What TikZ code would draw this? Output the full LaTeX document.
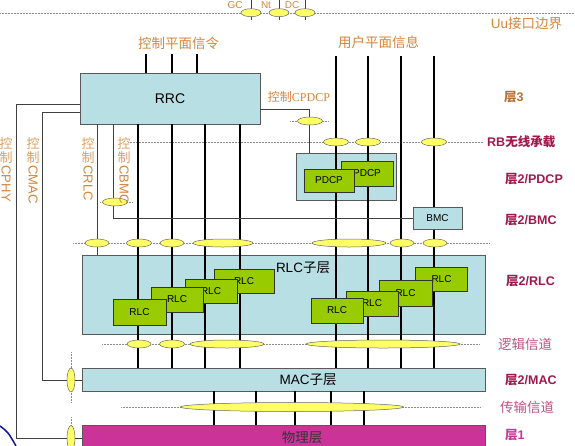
\documentclass[tikz,border=0pt]{standalone}
\usepackage{fontspec}
\setmainfont{Liberation Sans}
\newfontfamily\cjk{Noto Sans CJK SC}
\newfontfamily\lat{Liberation Sans}
\newfontfamily\serif{Liberation Serif}
\usetikzlibrary{shapes.geometric}
\usetikzlibrary{positioning}

\definecolor{boxblue}{RGB}{184,223,227}
\definecolor{rlcgreen}{RGB}{153,204,0}
\definecolor{ovalyellow}{RGB}{255,255,102}
\definecolor{phymag}{RGB}{204,51,153}
\definecolor{lblorange}{RGB}{214,132,58}
\definecolor{lbldark}{RGB}{160,24,76}
\definecolor{lblmauve}{RGB}{188,82,132}
\definecolor{arcblue}{RGB}{20,20,150}

\tikzset{
  layerbox/.style={draw=black!65, fill=boxblue, line width=0.8pt, inner sep=0pt},
  entity/.style={draw=black!80, fill=rlcgreen, line width=0.8pt, minimum width=52pt,
    minimum height=25pt, inner sep=0pt, font=\fontsize{10}{12}\selectfont},
  sap/.style={ellipse, draw=black!60, fill=ovalyellow, line width=0.5pt,
    minimum height=8pt, inner sep=0pt},
  chan/.style={line width=2.4pt, black},
  ctrl/.style={line width=0.8pt, black!75},
  bound/.style={densely dotted, black!45, line width=0.5pt},
  title/.style={inner sep=0pt, text=lblorange, font=\cjk\fontsize{13.5}{15}\selectfont},
  vlbl/.style={anchor=north, align=center, inner sep=0pt, text=lblorange!80,
    font=\cjk\fontsize{13}{14}\selectfont},
  vrot/.style={anchor=west, rotate=-90, inner sep=0pt, text=lblorange,
    font=\fontsize{13}{14}\selectfont},
  lyr/.style={anchor=west, inner sep=0pt, text=lbldark, font=\bfseries\fontsize{12.5}{14}\selectfont},
  chlbl/.style={anchor=west, inner sep=0pt, text=lblmauve, font=\cjk\fontsize{13.5}{15}\selectfont},
  sublbl/.style={inner sep=0pt, font=\fontsize{13.5}{15}\selectfont},
  toplbl/.style={inner sep=0pt, text=lblorange, font=\fontsize{10}{11}\selectfont}
}

\begin{document}
\begin{tikzpicture}[x=1pt,y=-1pt]
  \clip (0,0) rectangle (575,445);

  % dotted boundaries
  \draw [bound] (0,13) -- (575,13);
  \draw [bound] (128,142) -- (483,142);
  \draw [bound] (100,202) -- (133,202);
  \draw [bound] (290,121) -- (328,121);
  \draw [bound] (73,243) -- (490,243);
  \draw [bound] (102,344) -- (480,344);
  \draw [bound] (121,407) -- (480,407);
  \draw [bound] (71,352) -- (71,402);
  \draw [bound] (71,417) -- (71,445);

  % layer boxes
  \node [layerbox, minimum width=180pt, minimum height=51pt, font=\fontsize{14}{16}\selectfont]
    (rrc) at (170,98.5) {RRC};
  \node [layerbox, minimum width=100pt, minimum height=47pt] (pdcp) at (346,176.5) {};
  \node [layerbox, minimum width=403pt, minimum height=79pt] (rlc) at (283.5,294.5) {};
  \node [layerbox, minimum width=403pt, minimum height=23pt] (mac) at (283.5,379.5) {};
  \node [layerbox, fill=phymag, minimum width=403pt, minimum height=40pt] (phy) at (283.5,445) {};
  \node [sublbl] (rlctxt) at (303,268) {RLC{\cjk 子层}};
  \node [sublbl] (mactxt) at (308,380) {MAC{\cjk 子层}};
  \node [sublbl, text=black!80] (phytxt) at (302,437) {\cjk 物理层};

  % channels
  \foreach \x [count=\i] in {146,172,197} {
    \coordinate (s\i) at (\x,54);
    \draw [chan] (s\i) -- (s\i |- rrc.north);
  }
  \foreach \x [count=\i] in {138,172,205,240} {
    \coordinate (c\i) at (\x,124);
    \draw [chan] (c\i) -- (c\i |- mac.north);
  }
  \foreach \x [count=\i] in {336,368,401,434} {
    \coordinate (u\i) at (\x,56);
    \draw [chan] (u\i) -- (u\i |- mac.north);
  }
  \foreach \x [count=\i] in {214,256,295,331,364} {
    \coordinate (t\i) at (\x,391);
    \draw [chan] (t\i) -- (t\i |- phy.north);
  }

  % BMC and entities
  \node [layerbox, minimum width=49pt, minimum height=22pt, font=\fontsize{10}{12}\selectfont]
    (bmc) at (437.5,218) {BMC};
  \node [entity] (pdcpb) at (367,173.5) {PDCP};
  \node [entity, minimum width=50pt, minimum height=23pt] (pdcpa) at (329,180.5) {PDCP};

  \node [entity, minimum width=60pt, minimum height=24pt] (rlca4) at (244,281) {RLC};
  \node [entity, minimum height=24pt] (rlca3) at (211,291) {RLC};
  \node [entity] (rlca2) at (177,299.5) {RLC};
  \node [entity, minimum width=53pt, minimum height=26pt] (rlca1) at (139.5,312) {RLC};

  \node [entity, minimum height=24pt] (rlcb4) at (441.5,279) {RLC};
  \node [entity, minimum width=53pt, minimum height=26pt] (rlcb3) at (405.5,293) {RLC};
  \node [entity] (rlcb2) at (372,303.5) {RLC};
  \node [entity] (rlcb1) at (337,310.5) {RLC};

  % control lines
  \coordinate (crlc) at (97,124);
  \coordinate (cbmc) at (113,124);
  \draw [ctrl] (crlc) -- (crlc |- rlc.north);
  \draw [ctrl] (cbmc) |- (bmc.west);
  \draw [ctrl] ([yshift=-10.5pt]rrc.east) -| ([xshift=-37pt]pdcp.north);

  \node [sap, minimum width=8pt, minimum height=24pt] (emac) at (71,380) {};
  \node [sap, minimum width=8pt, minimum height=25pt] (ephy) at (71,438) {};
  \draw [ctrl] ([yshift=-13.5pt]rrc.west) -| ([xshift=-24pt]emac.west) -- (emac.west);
  \draw [ctrl] (emac.east) -- (mac.west |- emac.east);
  \draw [ctrl] ([yshift=-5.5pt]rrc.west) -| ([xshift=-50pt]ephy.west) -- (ephy.west);
  \draw [ctrl] (ephy.east) -- (phy.west |- ephy.east);

  % top SAPs
  \foreach \n/\x/\t/\lx in {gc/251/GC/235, nt/279/Nt/266, dc/305/DC/292} {
    \draw [ctrl] (\x,0) -- (\x,20);
    \node [sap, minimum width=20pt] (\n) at (\x,12.7) {};
    \node [toplbl] (\n txt) at (\lx,5.5) {\t};
  }

  % SAPs
  \node [sap, minimum width=25pt] (scpdcp) at (310,121) {};
  \node [sap, minimum width=25pt] (scbmc) at (115,202) {};
  \foreach \x [count=\i] in {336,368,434}
    \node [sap, minimum width=25pt] (rb\i) at (\x,142) {};
  \foreach \x/\w [count=\i] in {97/24,139/25,172/24,223/60,349/74,402/24,435/24}
    \node [sap, minimum width=\w pt] (up\i) at (\x,243) {};
  \foreach \x/\w [count=\i] in {139/24,172/25,227/74,383/154}
    \node [sap, minimum width=\w pt] (lg\i) at (\x,344) {};
  \node [sap, minimum width=223pt, minimum height=9pt] (tr1) at (292,407) {};

  % titles
  \node [title] (tuu) at (526.5,23) {{\lat Uu}接口边界};
  \node [title] (tcp) at (178.5,43) {控制平面信令};
  \node [title] (tup) at (378.5,42) {用户平面信息};
  \node [title, font=\cjk\fontsize{12}{14}\selectfont] (tcpdcp) at (299,97) {控制{\serif CPDCP}};

  % vertical control labels
  \foreach \n/\x/\t in {cphy/6/CPHY, cmac/33/CMAC, crlc/88/CRLC, cbmc/124/CBMC} {
    \node [vlbl] (v\n) at (\x,137) {控\\制};
    \node [vrot] (v\n txt) at ([yshift=-2pt]v\n.south) {\t};
  }

  % layer names
  \node [lyr, text=lblorange!85!black] (l3) at (504,97) {{\cjk 层}3};
  \node [lyr] (lrb) at (487,142) {RB{\cjk 无线承载}};
  \node [lyr] (lpdcp) at (505,179) {{\cjk 层}2/PDCP};
  \node [lyr] (lbmc) at (505,220) {{\cjk 层}2/BMC};
  \node [lyr] (lrlc) at (506,281) {{\cjk 层}2/RLC};
  \node [chlbl] (llog) at (498,344) {逻辑信道};
  \node [lyr] (lmac) at (505,380) {{\cjk 层}2/MAC};
  \node [chlbl] (ltr) at (500,407) {传输信道};
  \node [lyr, text=phymag] (lphy) at (505,435) {{\cjk 层}1};

  % arc
  \draw [arcblue, line width=1.5pt] (0,426) .. controls (8,432) .. (16,446);
\end{tikzpicture}
\end{document}
